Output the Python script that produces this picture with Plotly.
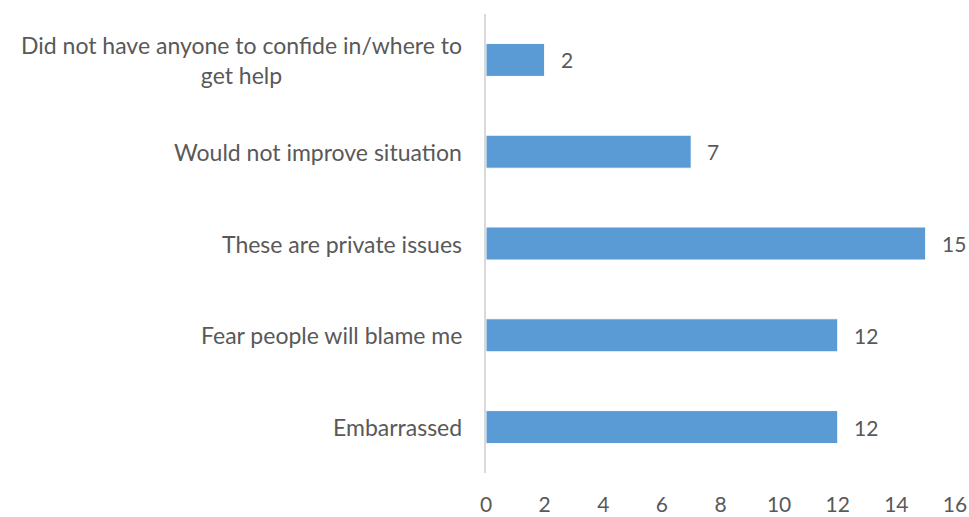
import plotly.graph_objects as go

categories = [
    "Did not have anyone to confide in/where to<br>get help",
    "Would not improve situation",
    "These are private issues",
    "Fear people will blame me",
    "Embarrassed",
]
values = [2, 7, 15, 12, 12]
x_ticks = [0, 2, 4, 6, 8, 10, 12, 14, 16]

FONT = "Lato"
TXT = "#595959"
CAT_SIZE = 23
NUM_SIZE = 21

fig = go.Figure(go.Bar(
    x=values, y=categories, orientation="h",
    marker=dict(color="#5B9BD5", line=dict(color="#FFFFFF", width=1)),
    width=0.36,
    hoverinfo="x+y",
))

annotations = []
for c, v in zip(categories, values):
    annotations.append(dict(
        x=0, y=c, xref="paper", yref="y", text=c, showarrow=False,
        xanchor="right", yanchor="middle", align="center", xshift=-22,
        font=dict(family=FONT, size=CAT_SIZE, color=TXT),
    ))
    annotations.append(dict(
        x=v, y=c, xref="x", yref="y", text=str(v), showarrow=False,
        xanchor="left", yanchor="middle", xshift=14,
        font=dict(family=FONT, size=NUM_SIZE, color=TXT),
    ))

fig.update_layout(
    width=969, height=517,
    margin=dict(l=486, r=14, t=14, b=44, autoexpand=False),
    plot_bgcolor="white", paper_bgcolor="white",
    showlegend=False,
    annotations=annotations,
    xaxis=dict(
        range=[0, 16], tickvals=x_ticks, ticktext=[str(t) for t in x_ticks],
        showgrid=False, zeroline=False, showline=False, automargin=False,
        tickfont=dict(family=FONT, size=NUM_SIZE, color=TXT),
        ticks="", ticklabelstandoff=17,
    ),
    yaxis=dict(
        categoryorder="array", categoryarray=categories[::-1],
        showticklabels=False, showgrid=False, zeroline=False, automargin=False,
        showline=True, linecolor="#D9D9D9", linewidth=2, ticks="",
    ),
)

fig.write_html(
    "out.html",
    config={"displayModeBar": False},
    post_script="document.body.style.margin='0';document.body.style.overflow='hidden';",
)
